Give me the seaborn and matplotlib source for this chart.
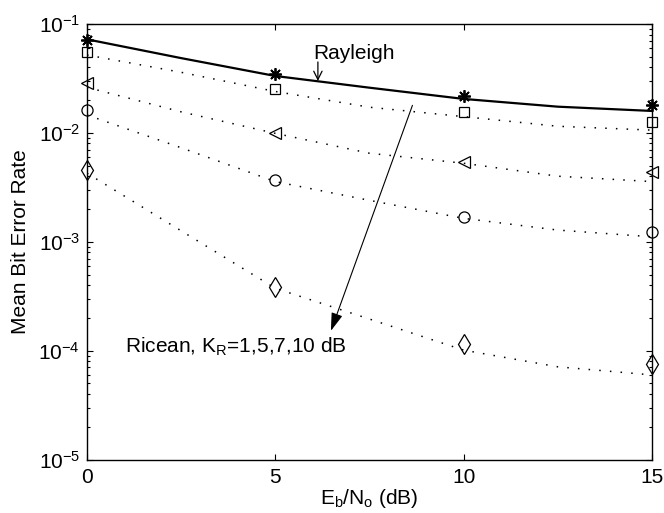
import matplotlib
matplotlib.use("Agg")
import matplotlib.pyplot as plt
import seaborn as sns
import pandas as pd

# ---- data ----
x_curve = [0, 2.5, 5, 7.5, 10, 12.5, 15]
x_sim = [0, 5, 10, 15]

rayleigh_curve = [0.0723, 0.0486, 0.0333, 0.0260, 0.0205, 0.0174, 0.0159]
k1_curve = [0.0519, 0.0360, 0.0240, 0.0172, 0.0141, 0.0115, 0.0106]
k5_curve = [0.0262, 0.0156, 0.0099, 0.0065, 0.00526, 0.0040, 0.00357]
k7_curve = [0.0146, 0.0073, 0.00357, 0.0024, 0.00164, 0.00128, 0.00111]
k10_curve = [0.00426, 0.00126, 0.000374, 0.000195, 0.000101, 0.000071, 0.0000598]

rayleigh_sim = [0.072, 0.0347, 0.0218, 0.0179]
k1_sim = [0.0557, 0.0251, 0.0156, 0.0126]
k5_sim = [0.0289, 0.0100, 0.00545, 0.0044]
k7_sim = [0.0162, 0.0037, 0.00168, 0.00122]
k10_sim = [0.00457, 0.000387, 0.000115, 0.0000755]

x_ticks = [0, 5, 10, 15]
y_ticks = [1e-5, 1e-4, 1e-3, 1e-2, 1e-1]

sns.set_theme(style="ticks")
plt.rcParams["font.family"] = ["Liberation Sans", "DejaVu Sans"]
plt.rcParams["mathtext.fontset"] = "custom"
plt.rcParams["mathtext.rm"] = "Liberation Sans"
plt.rcParams["mathtext.it"] = "Liberation Sans:italic"
plt.rcParams["mathtext.bf"] = "Liberation Sans:bold"
plt.rcParams["mathtext.default"] = "rm"
plt.rcParams["text.color"] = "black"
plt.rcParams["axes.labelcolor"] = "black"
plt.rcParams["xtick.color"] = "black"
plt.rcParams["ytick.color"] = "black"

FS = 15
fig = plt.figure(figsize=(6.64, 5.13), dpi=100)
ax = fig.add_axes([87 / 664, 1 - 459.5 / 513, (652 - 87) / 664, (459.5 - 24) / 513])

# Rayleigh solid curve
sns.lineplot(x=x_curve, y=rayleigh_curve, ax=ax, color="black", linewidth=1.6,
             sort=False, clip_on=False)
# Ricean dotted curves
for yc in [k1_curve, k5_curve, k7_curve, k10_curve]:
    sns.lineplot(x=x_curve, y=yc, ax=ax, color="black", linewidth=1.1,
                 linestyle=(0, (1, 6)), sort=False)

# simulation markers
series = [
    (rayleigh_sim, (8, 2, 0), 9, 1.3),
    (k1_sim, "s", 7, 0.9),
    (k5_sim, "<", 8.5, 0.9),
    (k7_sim, "o", 8, 0.9),
    (k10_sim, "d", 10.5, 0.9),
]
for ys, mk, ms, mew in series:
    sns.lineplot(x=x_sim, y=ys, ax=ax, linestyle="none", marker=mk,
                 markersize=ms, markerfacecolor="none", markeredgecolor="black",
                 markeredgewidth=mew, color="black", sort=False, clip_on=False)

ax.set_yscale("log")
ax.set_xlim(0, 15)
ax.set_ylim(1e-5, 1e-1)
ax.set_xticks(x_ticks)
ax.set_xticklabels([str(t) for t in x_ticks])
ax.set_yticks(y_ticks)
ax.xaxis.set_minor_locator(matplotlib.ticker.NullLocator())

for s in ax.spines.values():
    s.set_linewidth(1.0)
    s.set_color("black")

ax.tick_params(which="both", direction="in", top=True, right=True,
               labelsize=FS, colors="black", width=0.8)
ax.tick_params(which="major", length=4)
ax.tick_params(which="minor", length=2.5)
ax.tick_params(axis="x", pad=6)
ax.tick_params(axis="y", pad=5)

ax.set_xlabel(r"E$_\mathrm{b}$/N$_\mathrm{o}$ (dB)", fontsize=FS, labelpad=0)
ax.set_ylabel("Mean Bit Error Rate", fontsize=FS, labelpad=6)

# annotations
ax.text(6.0, 0.0474, "Rayleigh", fontsize=FS, ha="left", va="baseline")
ax.annotate("", xy=(6.13, 0.0300), xytext=(6.13, 0.0448),
            arrowprops=dict(arrowstyle="->,head_length=0.5,head_width=0.25",
                            lw=0.9, color="black", shrinkA=0, shrinkB=0))
ax.text(1.01, 9.6e-5, r"Ricean, K$_\mathrm{R}$=1,5,7,10 dB", fontsize=FS,
        ha="left", va="baseline")
ax.annotate("", xy=(6.476, 1.52e-4), xytext=(8.64, 0.0179),
            arrowprops=dict(arrowstyle="-|>,head_length=1.1,head_width=0.35",
                            lw=0.8, color="black", fc="black",
                            shrinkA=0, shrinkB=0, mutation_scale=10))

fig.savefig("out.png", dpi=100, facecolor="white")
